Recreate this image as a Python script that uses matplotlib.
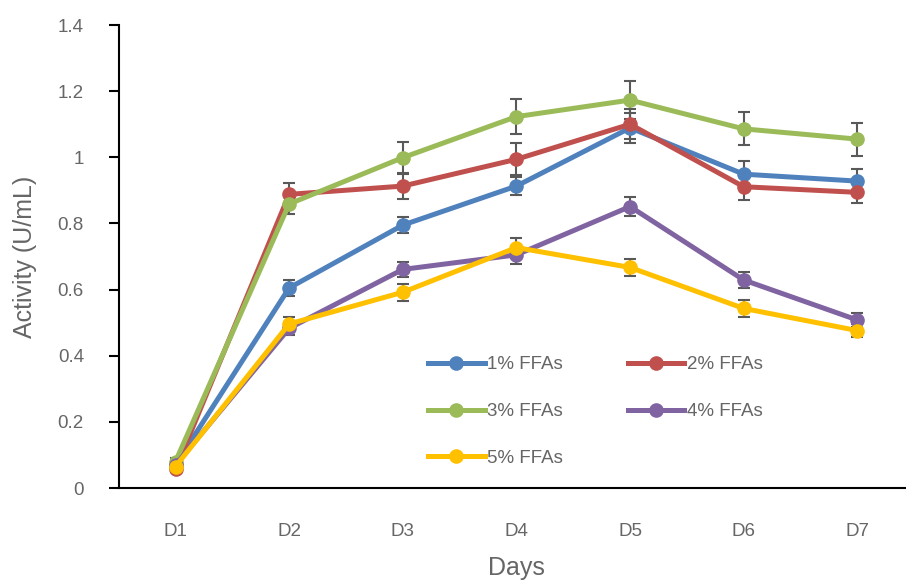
import numpy as np
import matplotlib
matplotlib.use("Agg")
import matplotlib.pyplot as plt

days = ["D1", "D2", "D3", "D4", "D5", "D6", "D7"]
labels = ["1% FFAs", "2% FFAs", "3% FFAs", "4% FFAs", "5% FFAs"]
colors = ["#4F81BD", "#C0504D", "#9BBB59", "#8064A2", "#FFC000"]

ffa_1 = [0.070, 0.605, 0.795, 0.913, 1.089, 0.949, 0.928]
ffa_2 = [0.057, 0.888, 0.913, 0.994, 1.100, 0.911, 0.894]
ffa_3 = [0.080, 0.859, 0.999, 1.123, 1.173, 1.086, 1.055]
ffa_4 = [0.070, 0.483, 0.661, 0.705, 0.851, 0.629, 0.508]
ffa_5 = [0.065, 0.496, 0.592, 0.727, 0.667, 0.543, 0.476]

err_1 = [0.010, 0.024, 0.024, 0.026, 0.045, 0.040, 0.038]
err_2 = [0.010, 0.033, 0.040, 0.048, 0.045, 0.040, 0.033]
err_3 = [0.010, 0.031, 0.048, 0.053, 0.057, 0.050, 0.050]
err_4 = [0.010, 0.020, 0.023, 0.028, 0.028, 0.025, 0.020]
err_5 = [0.010, 0.020, 0.026, 0.030, 0.025, 0.025, 0.020]

series = [ffa_1, ffa_2, ffa_3, ffa_4, ffa_5]
errors = [err_1, err_2, err_3, err_4, err_5]

plt.rcParams["font.family"] = ["Liberation Sans", "DejaVu Sans"]
text_color = "#666666"

fig = plt.figure(figsize=(9.06, 5.82), dpi=100)
ax = fig.add_axes([0.131, 0.1615, 0.878, 0.7955])

x = np.arange(len(days))
handles = []
for vals, errs, col, lab in zip(series, errors, colors, labels):
    ax.errorbar(x, vals, yerr=errs, fmt="none", ecolor="#595959",
                elinewidth=1.5, capsize=4, capthick=1.5, zorder=2)
    h, = ax.plot(x, vals, color=col, lw=3.6, marker="o", markersize=9.5,
                 label=lab, zorder=3)
    handles.append(h)

ax.set_xlim(-0.5, 6.5)
ax.set_ylim(0, 1.4)
ax.set_xticks(x)
ax.set_xticklabels(days)
ax.set_yticks(np.arange(0, 1.41, 0.2))
ax.set_yticklabels(["0", "0.2", "0.4", "0.6", "0.8", "1", "1.2", "1.4"])

ax.spines["top"].set_visible(False)
ax.spines["right"].set_visible(False)
for s in ("left", "bottom"):
    ax.spines[s].set_linewidth(1.5)
    ax.spines[s].set_color("black")

ax.tick_params(axis="y", direction="out", length=7, width=1.5,
               pad=18, labelsize=13.5, labelcolor=text_color)
ax.tick_params(axis="x", length=0, pad=25, labelsize=13.5,
               labelcolor=text_color)

ax.set_ylabel("Activity (U/mL)", fontsize=18, color=text_color, labelpad=15)
ax.set_xlabel("Days", fontsize=18, color=text_color, labelpad=12)

# row-major legend order with two columns
order = [0, 2, 4, 1, 3]
leg = ax.legend([handles[i] for i in order], [labels[i] for i in order],
                ncol=2, frameon=False, loc="upper left",
                bbox_to_anchor=(0.368, 0.321), fontsize=13.5,
                labelspacing=1.58, columnspacing=3.45, handlelength=3.0,
                handletextpad=0.15)
for t in leg.get_texts():
    t.set_color(text_color)

fig.savefig("out.png", dpi=100)
